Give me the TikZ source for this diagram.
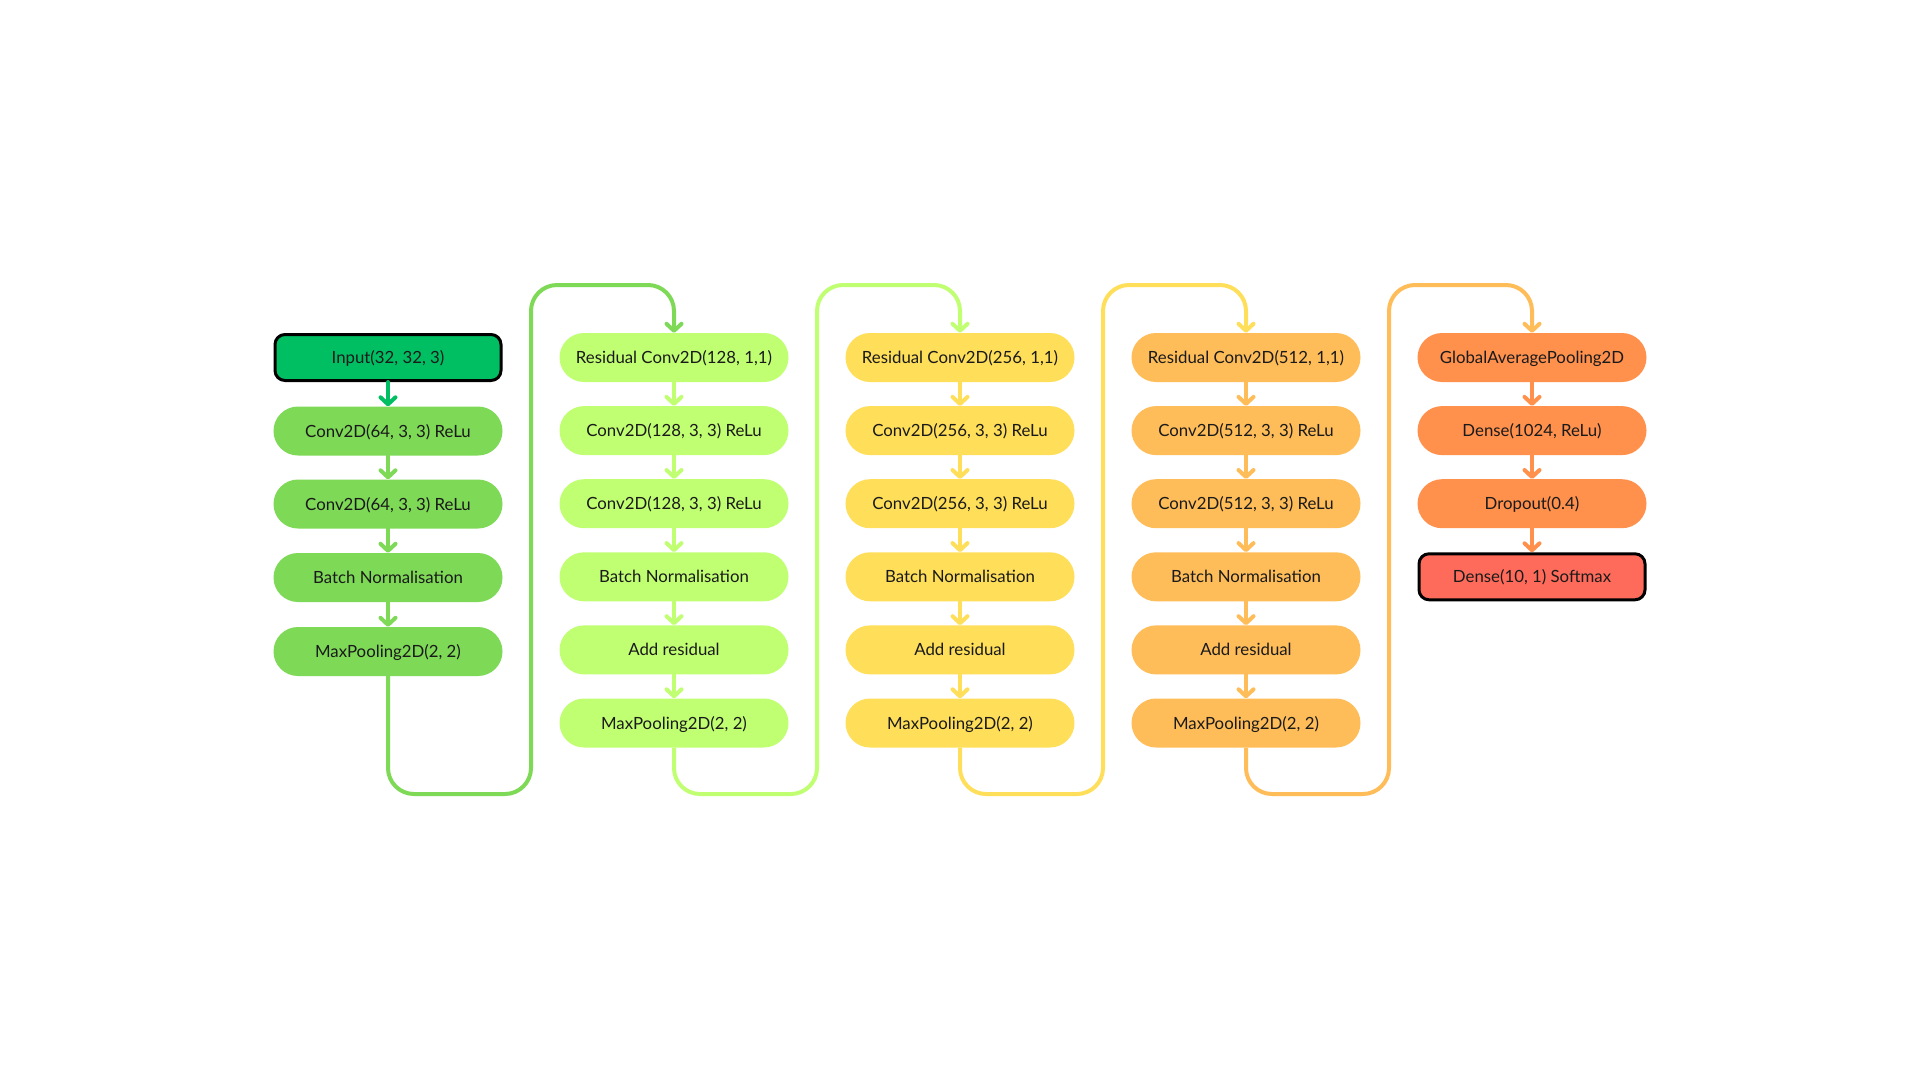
\documentclass[tikz,border=0pt]{standalone}
\usepackage{fontspec}
\setmainfont{Lato}
\usetikzlibrary{arrows.meta}
\definecolor{cA}{HTML}{00BF63}
\definecolor{cB}{HTML}{7ED957}
\definecolor{cC}{HTML}{C1FF72}
\definecolor{cD}{HTML}{FFDE59}
\definecolor{cE}{HTML}{FFBD59}
\definecolor{cF}{HTML}{FF914D}
\definecolor{cG}{HTML}{FF6B5A}
\definecolor{txt}{HTML}{1A1A1A}
\tikzset{
  layer/.style={rectangle, rounded corners=24.5pt, minimum width=229pt, minimum height=49pt, inner sep=0pt,
    text height=12pt, text depth=0pt,
    font=\fontsize{16.8pt}{19pt}\selectfont, text=txt, fill=#1},
  endbox/.style={rectangle, rounded corners=10pt, minimum width=226pt, minimum height=46pt, inner sep=0pt,
    text height=12pt, text depth=0pt,
    font=\fontsize{16.8pt}{19pt}\selectfont, text=txt, fill=#1, draw=black, line width=3pt},
  flow/.style={draw=#1, line width=4pt, line cap=round, -{Straight Barb[length=7pt,width=15pt,round]}},
  loop/.style={draw=#1, line width=4pt, rounded corners=26pt, -{Straight Barb[length=7pt,width=15pt,round]}},
}
\begin{document}
\begin{tikzpicture}[x=1pt,y=-1pt]
\useasboundingbox[fill=white] (0,0) rectangle (1920,1080);
% column 1
\node[endbox=cA] (a1) at (388,357.5) {Input(32, 32, 3)};
\node[layer=cB] (a2) at (388,431) {Conv2D(64, 3, 3) ReLu};
\node[layer=cB] (a3) at (388,504) {Conv2D(64, 3, 3) ReLu};
\node[layer=cB] (a4) at (388,577.5) {Batch Normalisation};
\node[layer=cB] (a5) at (388,651.5) {MaxPooling2D(2, 2)};
% column 2
\node[layer=cC] (b1) at (674,357.5) {Residual Conv2D(128, 1,1)};
\node[layer=cC] (b2) at (674,430.6) {Conv2D(128, 3, 3) ReLu};
\node[layer=cC] (b3) at (674,503.7) {Conv2D(128, 3, 3) ReLu};
\node[layer=cC] (b4) at (674,576.8) {Batch Normalisation};
\node[layer=cC] (b5) at (674,649.9) {Add residual};
\node[layer=cC] (b6) at (674,723) {MaxPooling2D(2, 2)};
% column 3
\node[layer=cD] (c1) at (960,357.5) {Residual Conv2D(256, 1,1)};
\node[layer=cD] (c2) at (960,430.6) {Conv2D(256, 3, 3) ReLu};
\node[layer=cD] (c3) at (960,503.7) {Conv2D(256, 3, 3) ReLu};
\node[layer=cD] (c4) at (960,576.8) {Batch Normalisation};
\node[layer=cD] (c5) at (960,649.9) {Add residual};
\node[layer=cD] (c6) at (960,723) {MaxPooling2D(2, 2)};
% column 4
\node[layer=cE] (d1) at (1246,357.5) {Residual Conv2D(512, 1,1)};
\node[layer=cE] (d2) at (1246,430.6) {Conv2D(512, 3, 3) ReLu};
\node[layer=cE] (d3) at (1246,503.7) {Conv2D(512, 3, 3) ReLu};
\node[layer=cE] (d4) at (1246,576.8) {Batch Normalisation};
\node[layer=cE] (d5) at (1246,649.9) {Add residual};
\node[layer=cE] (d6) at (1246,723) {MaxPooling2D(2, 2)};
% column 5
\node[layer=cF] (e1) at (1532,357.5) {GlobalAveragePooling2D};
\node[layer=cF] (e2) at (1532,430.6) {Dense(1024, ReLu)};
\node[layer=cF] (e3) at (1532,503.7) {Dropout(0.4)};
\node[endbox=cG] (e4) at (1532,576.8) {Dense(10, 1) Softmax};
% arrows within columns
\draw[flow=cA] (a1.south) -- (a2.north);
\draw[flow=cB] (a2.south) -- (a3.north);
\draw[flow=cB] (a3.south) -- (a4.north);
\draw[flow=cB] (a4.south) -- (a5.north);
\foreach \p/\q in {1/2,2/3,3/4,4/5,5/6}{
  \draw[flow=cC] (b\p.south) -- (b\q.north);
  \draw[flow=cD] (c\p.south) -- (c\q.north);
  \draw[flow=cE] (d\p.south) -- (d\q.north);
}
\foreach \p/\q in {1/2,2/3,3/4}{
  \draw[flow=cF] (e\p.south) -- (e\q.north);
}
% loops between columns
\draw[loop=cB] (a5.south) -- (388,794) -- (531,794) -- (531,285) -- (674,285) -- (b1.north);
\draw[loop=cC] (b6.south) -- (674,794) -- (817,794) -- (817,285) -- (960,285) -- (c1.north);
\draw[loop=cD] (c6.south) -- (960,794) -- (1103,794) -- (1103,285) -- (1246,285) -- (d1.north);
\draw[loop=cE] (d6.south) -- (1246,794) -- (1389,794) -- (1389,285) -- (1532,285) -- (e1.north);
\end{tikzpicture}
\end{document}
